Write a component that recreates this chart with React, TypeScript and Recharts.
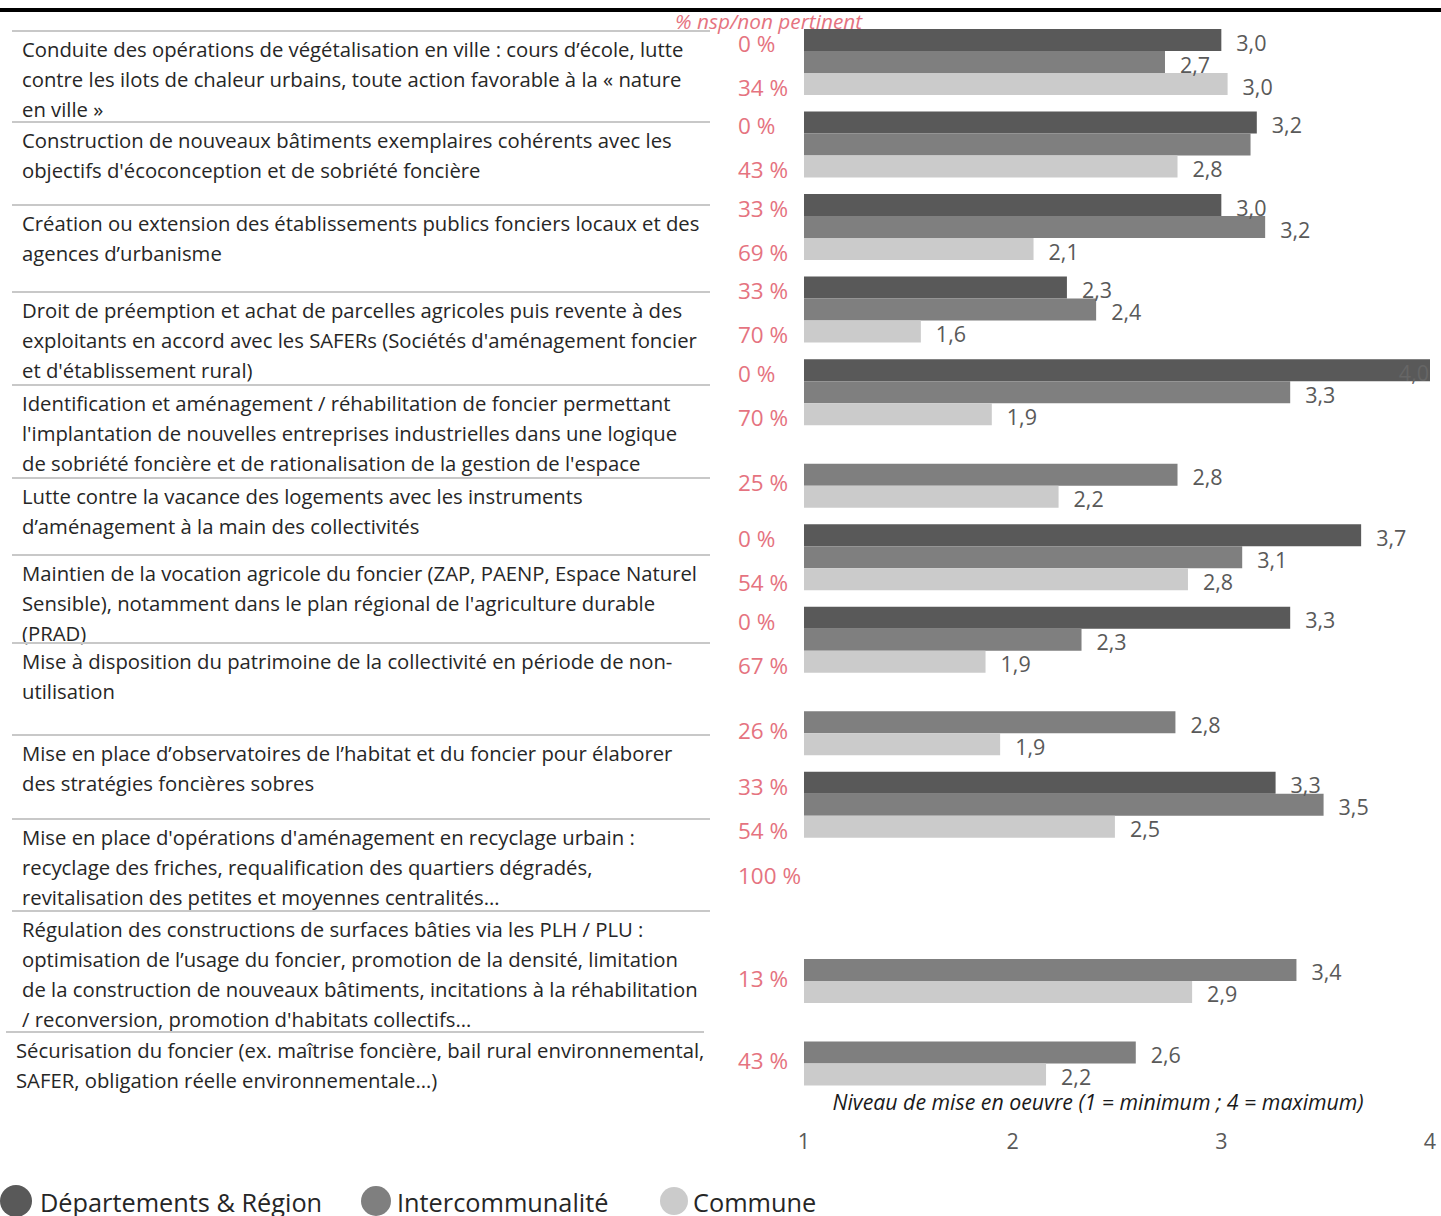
import React from "react";
import { BarChart, Bar, XAxis, YAxis, LabelList } from "recharts";

const rowIds = ["r1", "r2", "r3", "r4", "r5", "r6", "r7", "r8", "r9", "r10", "r11", "r12", "r13"];

const depValues = [3.0, 3.17, 3.0, 2.26, 4.0, null, 3.67, 3.33, null, 3.26, null, null, null];
const interValues = [2.73, 3.14, 3.21, 2.4, 3.33, 2.79, 3.1, 2.33, 2.78, 3.49, null, 3.36, 2.59];
const communeValues = [3.03, 2.79, 2.1, 1.56, 1.9, 2.22, 2.84, 1.87, 1.94, 2.49, null, 2.86, 2.16];

const pctDep = ["0 %", "0 %", "33 %", "33 %", "0 %", null, "0 %", "0 %", null, "33 %", null, null, null];
const pctCommune = ["34 %", "43 %", "69 %", "70 %", "70 %", "25 %", "54 %", "67 %", "26 %", "54 %", "100 %", "13 %", "43 %"];

const seriesNames = ["Départements & Région", "Intercommunalité", "Commune"];
const xTicks = [1, 2, 3, 4];

const rowLabels = [
  ["Conduite des opérations de végétalisation en ville : cours d’école, lutte", "contre les ilots de chaleur urbains, toute action favorable à la « nature", "en ville »"],
  ["Construction de nouveaux bâtiments exemplaires cohérents avec les", "objectifs d'écoconception et de sobriété foncière"],
  ["Création ou extension des établissements publics fonciers locaux et des", "agences d’urbanisme"],
  ["Droit de préemption et achat de parcelles agricoles puis revente à des", "exploitants en accord avec les SAFERs (Sociétés d'aménagement foncier", "et d'établissement rural)"],
  ["Identification et aménagement / réhabilitation de foncier permettant", "l'implantation de nouvelles entreprises industrielles dans une logique", "de sobriété foncière et de rationalisation de la gestion de l'espace"],
  ["Lutte contre la vacance des logements avec les instruments", "d’aménagement à la main des collectivités"],
  ["Maintien de la vocation agricole du foncier (ZAP, PAENP, Espace Naturel", "Sensible), notamment dans le plan régional de l'agriculture durable", "(PRAD)"],
  ["Mise à disposition du patrimoine de la collectivité en période de non-", "utilisation"],
  ["Mise en place d’observatoires de l’habitat et du foncier pour élaborer", "des stratégies foncières sobres"],
  ["Mise en place d'opérations d'aménagement en recyclage urbain :", "recyclage des friches, requalification des quartiers dégradés,", "revitalisation des petites et moyennes centralités…"],
  ["Régulation des constructions de surfaces bâties via les PLH / PLU :", "optimisation de l’usage du foncier, promotion de la densité, limitation", "de la construction de nouveaux bâtiments, incitations à la réhabilitation", "/ reconversion, promotion d'habitats collectifs…"],
  ["Sécurisation du foncier (ex. maîtrise foncière, bail rural environnemental,", "SAFER, obligation réelle environnementale…)"],
];

// layout of the text table on the left (y of each separator line)
const rowTops = [31, 122, 205, 292, 385, 478, 555, 643, 735, 819, 911, 1032];
// legend layout: circle centre / radius / text start
const legendPos = [
  { cx: 16, r: 16, tx: 40 },
  { cx: 376, r: 15, tx: 397 },
  { cx: 674, r: 14, tx: 693 },
];

const COLORS = ["#595959", "#7f7f7f", "#cbcbcb"];
const PINK = "#e5737f";
const FONT = "'Open Sans', 'Noto Sans', sans-serif";

const data = rowIds.map((id, i) => ({
  id,
  dep: depValues[i],
  inter: interValues[i],
  commune: communeValues[i],
}));

const fmt = (v: number) => v.toFixed(1).replace(".", ",");

const makeValueLabel = (hidden: number[] = []) => (props: any) => {
  const { x, y, width, height, value, index } = props;
  if (value == null || hidden.includes(index)) return null;
  const end = x + width;
  const inside = end + 45 > 1441;
  return (
    <text
      x={inside ? end - 1 : end + 15}
      y={y + height / 2 + 2}
      textAnchor={inside ? "end" : "start"}
      dominantBaseline="central"
      fontSize={21.5}
      fontFamily={FONT}
      fill={inside ? "#666" : "#595959"}
    >
      {fmt(value)}
    </text>
  );
};

const PctTick = (props: any) => {
  const { y, payload } = props;
  const i = rowIds.indexOf(payload.value);
  if (i < 0) return null;
  const items: { t: string; dy: number }[] = [];
  if (pctDep[i]) items.push({ t: pctDep[i] as string, dy: -19 });
  if (pctCommune[i]) {
    let dy = 25;
    if (!pctDep[i]) dy = interValues[i] != null ? 8 : -12;
    items.push({ t: pctCommune[i], dy });
  }
  return (
    <g>
      {items.map((it, k) => (
        <text
          key={k}
          x={738}
          y={y + it.dy}
          dominantBaseline="central"
          fontSize={22.5}
          fontFamily={FONT}
          fill={PINK}
        >
          {it.t}
        </text>
      ))}
    </g>
  );
};

const AxisTitle = (props: any) => {
  const { viewBox } = props;
  return (
    <text
      x={viewBox.x + viewBox.width / 2 - 19}
      y={viewBox.y + 7}
      textAnchor="middle"
      dominantBaseline="central"
      fontSize={21.3}
      fontStyle="italic"
      fontFamily={FONT}
      fill="#1a1a1a"
    >
      Niveau de mise en oeuvre (1 = minimum ; 4 = maximum)
    </text>
  );
};

export default function App() {
  return (
    <div style={{ position: "absolute", left: 0, top: 0, width: 1441, height: 1216, background: "#fff", overflow: "hidden" }}>
      <BarChart
        width={1441}
        height={1216}
        data={data}
        layout="vertical"
        margin={{ top: 21, right: 11, bottom: 62, left: 0 }}
        barSize={22}
        barGap={0}
      >
        <XAxis
          type="number"
          domain={[1, 4]}
          ticks={xTicks}
          axisLine={false}
          tickLine={false}
          tickMargin={34}
          height={60}
          allowDataOverflow
          tick={{ fontSize: 21.5, fill: "#595959", fontFamily: FONT }}
          label={<AxisTitle />}
        />
        <YAxis
          type="category"
          dataKey="id"
          width={804}
          axisLine={false}
          tickLine={false}
          tick={<PctTick />}
        />
        <Bar dataKey="dep" fill={COLORS[0]} isAnimationActive={false}>
          <LabelList dataKey="dep" content={makeValueLabel()} />
        </Bar>
        <Bar dataKey="inter" fill={COLORS[1]} isAnimationActive={false}>
          <LabelList dataKey="inter" content={makeValueLabel([1])} />
        </Bar>
        <Bar dataKey="commune" fill={COLORS[2]} isAnimationActive={false}>
          <LabelList dataKey="commune" content={makeValueLabel()} />
        </Bar>
      </BarChart>
      <svg
        width={1441}
        height={1216}
        style={{ position: "absolute", left: 0, top: 0, pointerEvents: "none" }}
        fontFamily={FONT}
      >
        <rect x={0} y={8} width={1441} height={4} fill="#000" />
        <text x={675} y={21} dominantBaseline="central" fontSize={20.8} fontStyle="italic" fill={PINK}>
          % nsp/non pertinent
        </text>
        {rowLabels.map((lines, r) => {
          const last = r === rowLabels.length - 1;
          const x0 = last ? 6 : 12;
          const top = rowTops[r];
          return (
            <g key={r}>
              <line x1={x0} x2={x0 + 698} y1={top} y2={top} stroke="#c8c8c8" strokeWidth={2} />
              {lines.map((ln, k) => (
                <text
                  key={k}
                  x={x0 + 10}
                  y={top + 18 + k * 30}
                  dominantBaseline="central"
                  fontSize={20.3}
                  fill="#262626"
                >
                  {ln}
                </text>
              ))}
            </g>
          );
        })}
        {seriesNames.map((name, i) => (
          <g key={name}>
            <circle cx={legendPos[i].cx} cy={1201} r={legendPos[i].r} fill={COLORS[i]} />
            <text x={legendPos[i].tx} y={1202} dominantBaseline="central" fontSize={25.3} fill="#262626">
              {name}
            </text>
          </g>
        ))}
      </svg>
    </div>
  );
}
